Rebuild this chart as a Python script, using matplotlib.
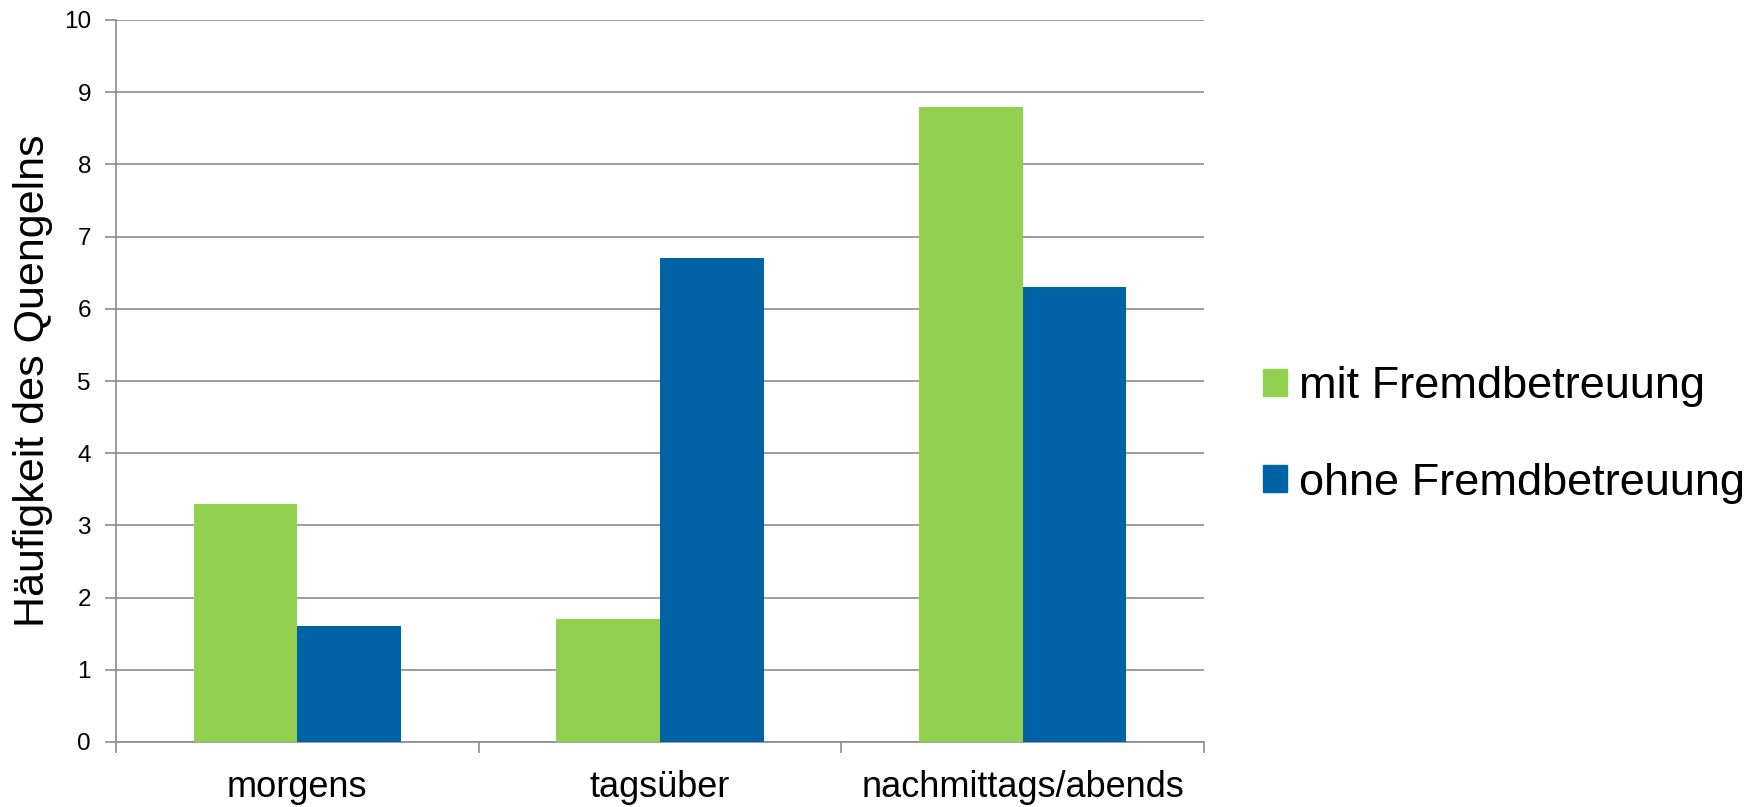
import matplotlib.pyplot as plt
import numpy as np
from matplotlib.patches import Patch

plt.rcParams['font.family'] = ['Liberation Sans', 'DejaVu Sans']

# Daten
kategorien = ['morgens', 'tagsüber', 'nachmittags/abends']
mit_fremd = [3.3, 1.7, 8.8]
ohne_fremd = [1.6, 6.7, 6.3]
serien = ['mit Fremdbetreuung', 'ohne Fremdbetreuung']
farben = ['#92D050', '#0063A6']

fig = plt.figure(figsize=(17.64, 8.07), dpi=100)
ax = fig.add_axes([116 / 1764, 1 - 742 / 807, (1204 - 116) / 1764, (742 - 20) / 807])

x = np.arange(len(kategorien))
w = 1 / 3.5  # Abstandsbreite 150%
ax.bar(x - w / 2, mit_fremd, w, color=farben[0], zorder=3)
ax.bar(x + w / 2, ohne_fremd, w, color=farben[1], zorder=3)

ax.set_xlim(-0.5, len(kategorien) - 0.5)
ax.set_ylim(0, 10)
ax.set_yticks(range(0, 11))
ax.tick_params(axis='y', labelsize=17.5, length=8, color='#8c8c8c', width=1.2, pad=10)

# Kategorie-Trennstriche als Haupt-Ticks, Beschriftung als Neben-Ticks
ax.set_xticks(np.arange(-0.5, len(kategorien)))
ax.set_xticklabels([])
ax.set_xticks(x, minor=True)
ax.set_xticklabels(kategorien, minor=True, fontsize=26)
ax.tick_params(axis='x', which='major', length=8, color='#8c8c8c', width=1.2)
ax.tick_params(axis='x', which='minor', length=0, pad=20)

ax.grid(axis='y', color='#8c8c8c', linewidth=1.2, zorder=0)
for s in ['top', 'right']:
    ax.spines[s].set_visible(False)
for s in ['left', 'bottom']:
    ax.spines[s].set_color('#8c8c8c')
    ax.spines[s].set_linewidth(1.2)

ax.set_ylabel('Häufigkeit des Quengelns', fontsize=31, labelpad=8)

handles = [Patch(color=c) for c in farben]
fig.legend(handles, serien, loc='center left', bbox_to_anchor=(1263 / 1764, 1 - 435 / 807),
           frameon=False, fontsize=32.5, handlelength=0.54, handleheight=0.54,
           handletextpad=0.25, labelspacing=1.22, borderpad=0, borderaxespad=0)

fig.savefig('out.png', dpi=100)
